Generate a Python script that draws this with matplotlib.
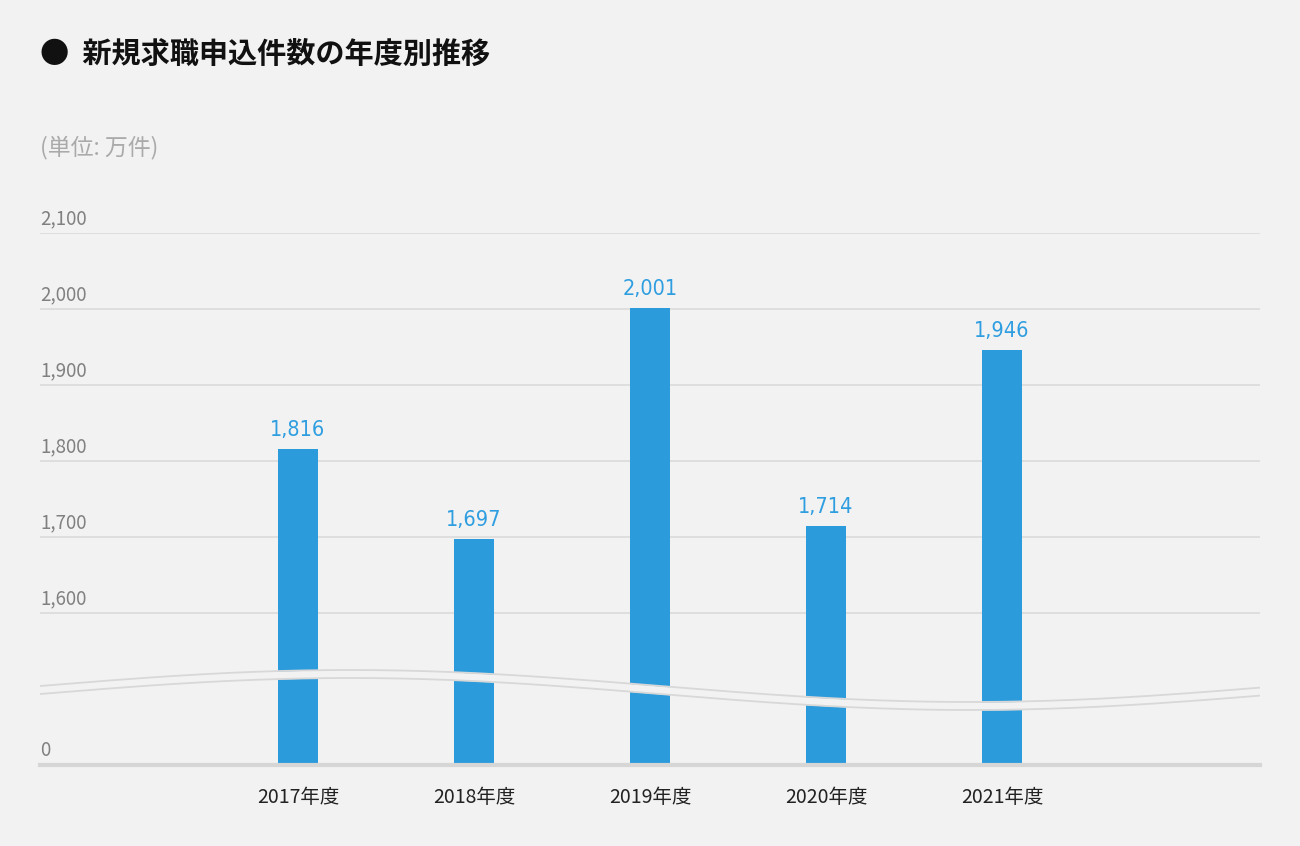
import numpy as np
import matplotlib
matplotlib.use("Agg")
import matplotlib.pyplot as plt
from matplotlib import font_manager

# ---- data ----
categories = ["2017年度", "2018年度", "2019年度", "2020年度", "2021年度"]
values = [1816, 1697, 2001, 1714, 1946]
value_labels = ["1,816", "1,697", "2,001", "1,714", "1,946"]
ytick_values = [0, 1600, 1700, 1800, 1900, 2000, 2100]
ytick_labels = ["0", "1,600", "1,700", "1,800", "1,900", "2,000", "2,100"]
title = "●  新規求職申込件数の年度別推移"
unit_label = "(単位: 万件)"

BG = "#f2f2f2"
BAR = "#2c9bdb"
LABEL_BLUE = "#2f9ee0"
GRID = "#dadada"

fl = font_manager.fontManager.ttflist
if any(f.name == "Liberation Sans Narrow" for f in fl):
    num_font = dict(family=["Liberation Sans Narrow", "DejaVu Sans"], fontsize=18)
elif any(f.name == "DejaVu Sans" and f.stretch == "condensed" for f in fl):
    num_font = dict(family=["DejaVu Sans", "DejaVu Sans"], fontstretch="condensed",
                    fontsize=15.5)
else:
    num_font = dict(family=["Roboto", "DejaVu Sans"], fontsize=16.5)

plt.rcParams["font.family"] = ["Noto Sans CJK JP", "DejaVu Sans"]

W, H = 1300, 846
fig = plt.figure(figsize=(W / 100, H / 100), dpi=100, facecolor=BG)
ax = fig.add_axes([40 / W, 1 - 765 / H, 1220 / W, 532 / H], facecolor=BG)

# broken axis: values below 1500 compressed into the band 1400-1500
def fwd(v):
    v = np.asarray(v, dtype=float)
    return np.where(v >= 1500, v, 1400 + v * 100 / 1500)

def inv(u):
    u = np.asarray(u, dtype=float)
    return np.where(u >= 1500, u, (u - 1400) * 15)

ax.set_yscale("function", functions=(fwd, inv))
ax.set_ylim(0, 2100)

x = np.arange(len(categories))
ax.set_xlim(-258 / 176, 962 / 176)

# gridlines
for t in ytick_values[1:]:
    ax.axhline(t, color=GRID, lw=1.2, zorder=1)
# baseline
ax.axhline(0, color="#d6d6d6", lw=3.0, zorder=4, clip_on=False)

ax.bar(x, values, width=40 / 176, color=BAR, zorder=2)

for xi, v, lab in zip(x, values, value_labels):
    ax.annotate(lab, (xi, v), xytext=(0, 9.5), textcoords="offset points",
                ha="center", va="baseline", color=LABEL_BLUE, **num_font)

# y labels above gridlines
for t, lab in zip(ytick_values, ytick_labels):
    ax.annotate(lab, (0, t), xycoords=ax.get_yaxis_transform(),
                xytext=(0, 6.5), textcoords="offset points",
                ha="left", va="baseline", color="#808080", fontsize=13.5)

ax.set_yticks([])
ax.set_xticks(x)
ax.set_xticklabels(categories, fontsize=14, color="#222222")
ax.tick_params(axis="x", length=0, pad=16)
for s in ax.spines.values():
    s.set_visible(False)

# decorative wave band (axis break)
px = np.linspace(40, 1260, 400)
cy = 690 - 16 * np.sin(2 * np.pi * (px - 40) / 1240)
xa = (px - 40) / 1220
ya_top = (765 - (cy - 4)) / 532
ya_bot = (765 - (cy + 4)) / 532
ax.fill_between(xa, ya_bot, ya_top, transform=ax.transAxes, color=BG,
                zorder=3, lw=0)
ax.plot(xa, ya_top, transform=ax.transAxes, color="#d8d8d8", lw=1.3, zorder=3.5)
ax.plot(xa, ya_bot, transform=ax.transAxes, color="#d8d8d8", lw=1.3, zorder=3.5)

fig.text(40 / W, 1 - 54 / H, title, fontsize=21, fontweight="bold",
         color="#111111", ha="left", va="center")
fig.text(40 / W, 1 - 147 / H, unit_label, fontsize=16.5, color="#aaaaaa",
         ha="left", va="center")

fig.savefig("out.png", dpi=100, facecolor=BG)
